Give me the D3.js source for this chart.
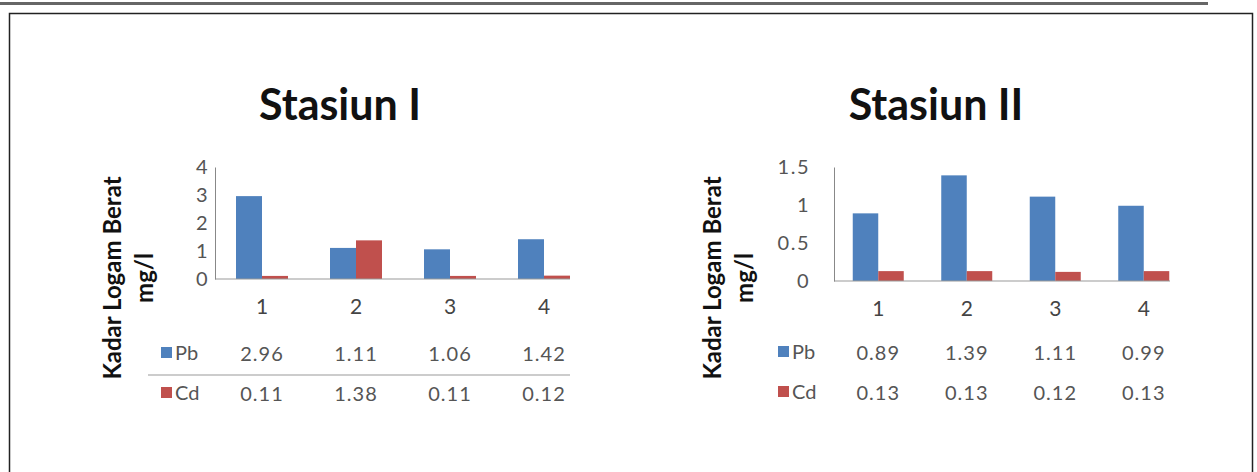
<!DOCTYPE html>
<html>
<head>
<meta charset="utf-8">
<script src="https://cdn.jsdelivr.net/npm/d3@7"></script>
<style>
  html, body { margin: 0; padding: 0; background: #fff; }
  svg { display: block; }
</style>
</head>
<body>
<svg id="chart" width="1257" height="472"></svg>
<script>
// ---- data ----
const categories = ["1", "2", "3", "4"];
const seriesNames = ["Pb", "Cd"];
const pbStasiun1 = [2.96, 1.11, 1.06, 1.42];
const cdStasiun1 = [0.11, 1.38, 0.11, 0.12];
const pbStasiun2 = [0.89, 1.39, 1.11, 0.99];
const cdStasiun2 = [0.13, 0.13, 0.12, 0.13];
const yTicks1 = [0, 1, 2, 3, 4];
const yTicks2 = [0, 0.5, 1, 1.5];
const tableLabels1 = { Pb: ["2.96", "1.11", "1.06", "1.42"], Cd: ["0.11", "1.38", "0.11", "0.12"] };
const tableLabels2 = { Pb: ["0.89", "1.39", "1.11", "0.99"], Cd: ["0.13", "0.13", "0.12", "0.13"] };
const titles = ["Stasiun I", "Stasiun II"];
const yTitleLines = ["Kadar Logam Berat", "mg/l"];

const colors = { Pb: "#4F81BD", Cd: "#C0504D" };
const FONT = "Lato, 'Open Sans', sans-serif";

const svg = d3.select("#chart");

// page decorations
svg.append("rect").attr("x", 0).attr("y", 2).attr("width", 1208).attr("height", 3).attr("fill", "#666");
svg.append("rect").attr("x", 9.5).attr("y", 13.5).attr("width", 1243).attr("height", 480)
  .attr("fill", "none").attr("stroke", "#222").attr("stroke-width", 1.5);

function drawChart(cfg) {
  const g = svg.append("g");
  const y = d3.scaleLinear().domain(cfg.yDomain).range([cfg.y0, cfg.yTop]);
  const x = d3.scaleBand().domain(categories).range([cfg.x0, cfg.x0 + cfg.step * categories.length]).padding(0);
  const xs = d3.scaleBand().domain(seriesNames)
    .range([x.bandwidth() / 2 - cfg.barW, x.bandwidth() / 2 + cfg.barW]).padding(0);

  // title
  g.append("text").attr("x", cfg.titleX).attr("y", 120).attr("text-anchor", "middle")
    .attr("font-family", FONT).attr("font-weight", 700).attr("font-size", 43).attr("fill", "#111")
    .text(cfg.title);

  // y axis title
  const yt = g.append("g").attr("transform", `translate(${cfg.yTitleX},278) rotate(-90)`);
  yTitleLines.forEach((t, i) => {
    yt.append("text").attr("x", 0).attr("y", i * 32).attr("text-anchor", "middle")
      .attr("font-family", FONT).attr("font-weight", 700).attr("font-size", 24).attr("fill", "#111")
      .text(t);
  });

  const clipId = "clip" + cfg.id;
  g.append("clipPath").attr("id", clipId).append("rect")
    .attr("x", cfg.x0).attr("y", 0).attr("width", cfg.clipX - cfg.x0).attr("height", 472);

  const plot = g.append("g").attr("clip-path", `url(#${clipId})`);

  // bars
  seriesNames.forEach(s => {
    const vals = cfg.values[s];
    plot.selectAll(null).data(categories).enter().append("rect")
      .attr("x", (c) => x(c) + xs(s))
      .attr("y", (c, i) => y(vals[i]))
      .attr("width", xs.bandwidth())
      .attr("height", (c, i) => y(0) - y(vals[i]))
      .attr("fill", colors[s]);
  });

  // x axis line
  plot.append("line").attr("x1", cfg.x0).attr("x2", cfg.clipX).attr("y1", y(0)).attr("y2", y(0))
    .attr("stroke", "#999").attr("stroke-width", 1);

  // y axis
  const yAxis = d3.axisLeft(y).tickValues(cfg.yTicks).tickSize(0).tickPadding(cfg.tickPad)
    .tickFormat(d3.format("~g"));
  const ya = g.append("g").attr("transform", `translate(${cfg.x0},0)`).call(yAxis);
  ya.select(".domain").attr("stroke", "#888");
  ya.selectAll("text").attr("font-family", FONT).attr("font-size", 20).attr("fill", "#555")
    .attr("letter-spacing", 1.5);

  // x axis labels
  const xAxis = d3.axisBottom(x).tickSize(0).tickPadding(0);
  const xa = g.append("g").attr("transform", `translate(0,${y(0)})`).call(xAxis);
  xa.select(".domain").remove();
  xa.selectAll("text").attr("font-family", FONT).attr("font-size", 21).attr("fill", "#444")
    .attr("dy", 0).attr("y", 35);

  // data table
  seriesNames.forEach((s, r) => {
    const ry = cfg.rowY[r];
    g.append("rect").attr("x", cfg.legX).attr("y", ry - 6).attr("width", 11).attr("height", 11).attr("fill", colors[s]);
    g.append("text").attr("x", cfg.legX + 14).attr("y", ry + 7)
      .attr("font-family", FONT).attr("font-size", 20).attr("fill", "#555").text(s);
    g.selectAll(null).data(categories).enter().append("text")
      .attr("x", c => x(c) + x.bandwidth() / 2)
      .attr("y", ry + 8).attr("text-anchor", "middle")
      .attr("font-family", FONT).attr("font-size", 20).attr("letter-spacing", 1).attr("fill", "#555")
      .text((c, i) => cfg.labels[s][i]);
  });
  if (cfg.sepY) {
    g.append("line").attr("x1", cfg.legX - 13).attr("x2", cfg.clipX).attr("y1", cfg.sepY).attr("y2", cfg.sepY)
      .attr("stroke", "#999").attr("stroke-width", 1);
  }
}

drawChart({
  id: 1, title: titles[0], titleX: 340, yTitleX: 121,
  yDomain: [0, 4], yTicks: yTicks1, y0: 279, yTop: 167, tickPad: 6,
  x0: 215, step: 94, barW: 26, clipX: 570,
  values: { Pb: pbStasiun1, Cd: cdStasiun1 }, labels: tableLabels1,
  legX: 161, rowY: [353, 393], sepY: 375
});

drawChart({
  id: 2, title: titles[1], titleX: 936, yTitleX: 721,
  yDomain: [0, 1.5], yTicks: yTicks2, y0: 281, yTop: 167, tickPad: 24,
  x0: 834, step: 88.5, barW: 25.5, clipX: 1170,
  values: { Pb: pbStasiun2, Cd: cdStasiun2 }, labels: tableLabels2,
  legX: 778, rowY: [352, 392], sepY: null
});
</script>
</body>
</html>
